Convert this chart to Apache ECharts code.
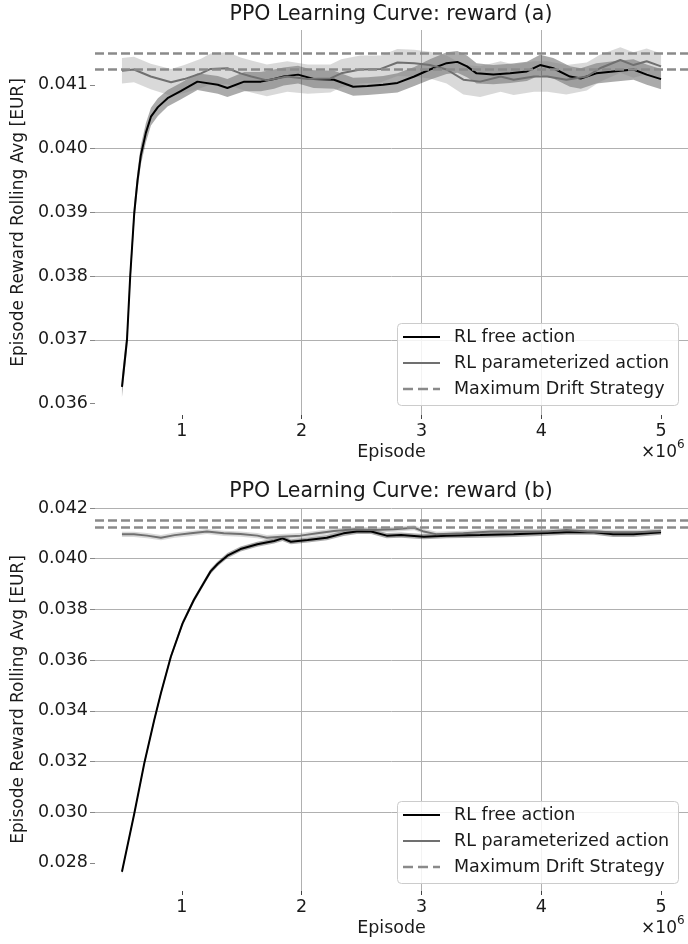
<!DOCTYPE html>
<html><head><meta charset="utf-8">
<script src="https://cdn.jsdelivr.net/npm/echarts@6/dist/echarts.min.js"></script>
<style>html,body{margin:0;padding:0;background:#fff}#c{width:688px;height:944px}</style>
</head><body><div id="c"></div>
<script>
// ---- tick labels ----
const xTicks = [1, 2, 3, 4, 5];
const yTicksA = [0.036, 0.037, 0.038, 0.039, 0.040, 0.041];
const yTicksB = [0.028, 0.030, 0.032, 0.034, 0.036, 0.038, 0.040, 0.042];
const seriesNames = ['RL free action', 'RL parameterized action', 'Maximum Drift Strategy'];
const driftLevels = [0.04150, 0.04125];

// ---- (a) RL free action (episodes in millions) ----
const xFreeA = [0.5,0.542,0.569,0.603,0.63,0.658,0.7,0.742,0.8,0.881,0.99,1.13,1.3,1.38,1.52,1.66,1.77,1.85,1.97,2.1,2.27,2.43,2.55,2.68,2.8,2.94,3.07,3.21,3.30,3.38,3.46,3.6,3.74,3.88,3.99,4.1,4.24,4.33,4.46,4.6,4.77,4.88,5.0];
const yFreeA = [0.03626,0.0370,0.0380,0.0390,0.0395,0.0399,0.04025,0.0405,0.04065,0.04079,0.0409,0.04105,0.0410,0.04095,0.04105,0.04105,0.04109,0.04113,0.04116,0.04109,0.04108,0.04097,0.04098,0.04100,0.04103,0.04113,0.04124,0.04134,0.04136,0.04129,0.04118,0.04116,0.04118,0.04121,0.04131,0.04126,0.04113,0.04110,0.04118,0.04121,0.04124,0.04116,0.04109];
const sdFreeA = [0.00016,0.00016,0.00016,0.00016,0.00015,0.00015,0.00015,0.00014,0.00014,0.00013,0.00013,0.00013,0.00014,0.00014,0.00015,0.00015,0.00015,0.00014,0.00014,0.00014,0.00014,0.00014,0.00014,0.00014,0.00015,0.00015,0.00016,0.00017,0.00017,0.00017,0.00016,0.00015,0.00015,0.00015,0.00016,0.00016,0.00016,0.00016,0.00016,0.00016,0.00016,0.00016,0.00016];

// ---- (a) RL parameterized action ----
const xParA = [0.5,0.6,0.74,0.91,1.02,1.16,1.24,1.38,1.49,1.58,1.71,1.88,2.05,2.24,2.33,2.49,2.66,2.8,2.94,3.07,3.21,3.35,3.49,3.66,3.77,3.94,4.05,4.21,4.38,4.49,4.66,4.77,4.88,5.0];
const yParA = [0.04122,0.04124,0.04113,0.04104,0.04109,0.04118,0.04125,0.04126,0.04118,0.04113,0.04107,0.04113,0.04109,0.04110,0.04118,0.04124,0.04125,0.04135,0.04134,0.04131,0.04124,0.04108,0.04105,0.04113,0.04108,0.04113,0.04113,0.04108,0.04113,0.04126,0.04139,0.04131,0.04137,0.04129];
const sdParA = [0.00020,0.00020,0.00020,0.00021,0.00022,0.00023,0.00024,0.00025,0.00025,0.00025,0.00025,0.00024,0.00023,0.00022,0.00022,0.00022,0.00021,0.00021,0.00021,0.00021,0.00022,0.00023,0.00024,0.00024,0.00024,0.00024,0.00024,0.00023,0.00022,0.00021,0.00020,0.00020,0.00020,0.00020];

// ---- (b) RL free action ----
const xFreeB = [0.5,0.603,0.686,0.769,0.825,0.908,1.006,1.1,1.19,1.24,1.3,1.38,1.49,1.63,1.77,1.84,1.91,2.05,2.21,2.35,2.46,2.58,2.71,2.83,3.02,3.21,3.49,3.77,3.99,4.21,4.44,4.6,4.77,5.0];
const yFreeB = [0.02765,0.02995,0.03192,0.03363,0.03469,0.03613,0.03745,0.03837,0.03910,0.03950,0.0398,0.04012,0.04038,0.04057,0.0407,0.0408,0.04067,0.04074,0.04083,0.0410,0.04107,0.04107,0.04091,0.04093,0.04087,0.04091,0.04093,0.04096,0.0410,0.04104,0.04104,0.04096,0.04096,0.04104];
const sdFreeB = [0.00010,0.00010,0.00010,0.00010,0.00010,0.00010,0.00010,0.00010,0.00010,0.00010,0.00010,0.00010,0.00010,0.00010,0.00010,0.00010,0.00010,0.00010,0.00010,0.00010,0.00010,0.00010,0.00010,0.00010,0.00010,0.00010,0.00010,0.00010,0.00010,0.00010,0.00010,0.00010,0.00010,0.00010];

// ---- (b) RL parameterized action ----
const xParB = [0.5,0.6,0.71,0.825,0.94,1.075,1.21,1.35,1.49,1.63,1.71,1.83,1.99,2.13,2.27,2.44,2.6,2.77,2.94,3.02,3.13,3.35,3.58,3.83,4.05,4.21,4.38,4.6,4.8,5.0];
const yParB = [0.04096,0.04096,0.04091,0.04083,0.04093,0.0410,0.04107,0.0410,0.04097,0.04091,0.04083,0.04087,0.04091,0.0410,0.04109,0.04116,0.04113,0.04116,0.04122,0.04107,0.04096,0.0410,0.04107,0.04107,0.04107,0.04113,0.04107,0.04104,0.04104,0.04109];
const sdParB = [0.00010,0.00010,0.00010,0.00010,0.00010,0.00010,0.00010,0.00010,0.00010,0.00010,0.00010,0.00010,0.00010,0.00010,0.00010,0.00010,0.00010,0.00010,0.00010,0.00010,0.00010,0.00010,0.00010,0.00010,0.00010,0.00010,0.00010,0.00010,0.00010,0.00010];

const FONT = 'DejaVu Sans';
const TXT = '#1a1a1a';
const GRID = '#b0b0b0';
const C_FREE = '#000000';
const C_PAR = '#707070';
const C_DRIFT = '#8a8a8a';
const BAND_FREE = 'rgba(0,0,0,0.33)';
const BAND_PAR = 'rgba(128,128,128,0.3)';
const FS = 17.5;

function pairs(xs, ys) { return xs.map((x, i) => [x, ys[i]]); }

function band(idx, xs, ys, sd, color) {
  return {
    type: 'custom', xAxisIndex: idx, yAxisIndex: idx, silent: true, clip: true, z: 1,
    data: [[xs[0], ys[0]]],
    renderItem: function (params, api) {
      const pts = [];
      for (let i = 0; i < xs.length; i++) pts.push(api.coord([xs[i], ys[i] + sd[i]]));
      for (let i = xs.length - 1; i >= 0; i--) pts.push(api.coord([xs[i], ys[i] - sd[i]]));
      return { type: 'polygon', shape: { points: pts }, style: { fill: color } };
    }
  };
}
function line(idx, name, xs, ys, color, z) {
  return {
    type: 'line', name: name, xAxisIndex: idx, yAxisIndex: idx, data: pairs(xs, ys),
    symbol: 'none', showSymbol: false, silent: true, z: z,
    lineStyle: { color: color, width: 2 }, itemStyle: { color: color }
  };
}
function drift(idx) {
  const ls = { color: C_DRIFT, width: 2.5, type: [9, 4] };
  return {
    type: 'line', name: seriesNames[2], xAxisIndex: idx, yAxisIndex: idx, data: [],
    symbol: 'none', silent: true, z: 4, lineStyle: ls, itemStyle: { color: C_DRIFT },
    markLine: {
      silent: true, symbol: ['none', 'none'], label: { show: false }, precision: 8,
      lineStyle: ls, animation: false,
      data: driftLevels.map(v => ({ yAxis: v }))
    }
  };
}
function xAxisCfg(idx) {
  return {
    type: 'value', gridIndex: idx, min: 0.275, max: 5.225, splitNumber: 5,
    axisLine: { show: false },
    axisTick: { show: true, length: 4, lineStyle: { color: '#444' }, customValues: xTicks },
    axisLabel: { customValues: xTicks, fontFamily: FONT, fontSize: FS, color: TXT, margin: 7, formatter: v => String(Math.round(v)) },
    splitLine: { show: true, showMinLine: false, showMaxLine: false, lineStyle: { color: GRID, width: 1 } },
    name: 'Episode', nameLocation: 'middle', nameGap: 28,
    nameTextStyle: { fontFamily: FONT, fontSize: FS, color: TXT }
  };
}
function yAxisCfg(idx, min, max, split, ticks, showMax) {
  return {
    type: 'value', gridIndex: idx, min: min, max: max, splitNumber: split,
    axisLine: { show: false },
    axisTick: { show: true, length: 5, lineStyle: { color: '#888' }, customValues: ticks },
    axisLabel: { customValues: ticks, fontFamily: FONT, fontSize: FS, color: TXT, margin: 7, formatter: v => v.toFixed(3) },
    splitLine: { show: true, showMinLine: false, showMaxLine: showMax, lineStyle: { color: GRID, width: 1 } },
    name: 'Episode Reward Rolling Avg [EUR]', nameLocation: 'middle', nameGap: 63,
    nameTextStyle: { fontFamily: FONT, fontSize: 17, color: TXT }
  };
}
// legend drawn as graphic elements (box, sample lines, labels)
function legendGraphic(top) {
  const left = 397, width = 281, height = 82;
  const styles = [
    { stroke: C_FREE, lineWidth: 2 },
    { stroke: C_PAR, lineWidth: 2 },
    { stroke: C_DRIFT, lineWidth: 2.5, lineDash: [10, 5] }
  ];
  const out = [{
    type: 'rect', z: 100, silent: true,
    shape: { x: left + 0.5, y: top + 0.5, width: width, height: height, r: 4 },
    style: { fill: 'rgba(255,255,255,0.85)', stroke: '#cccccc', lineWidth: 1 }
  }];
  seriesNames.forEach((name, i) => {
    const cy = top + 14 + i * 26;
    out.push({ type: 'line', z: 101, silent: true, shape: { x1: left + 6, y1: cy, x2: left + 43, y2: cy }, style: styles[i] });
    out.push({ type: 'text', z: 101, silent: true, x: left + 57, y: cy, style: { text: name, font: FS + 'px "DejaVu Sans"', fill: TXT, align: 'left', verticalAlign: 'middle' } });
  });
  return out;
}
function titleCfg(text, top) {
  return { text: text, left: 391, top: top, textAlign: 'center', padding: 0,
    textStyle: { fontFamily: FONT, fontSize: 20.5, fontWeight: 'normal', color: TXT } };
}
function expText(y) {
  return [
    { type: 'text', x: 677, y: y, silent: true, style: { text: '×10', align: 'right', verticalAlign: 'middle', font: '17px "DejaVu Sans"', fill: TXT } },
    { type: 'text', x: 677, y: y - 8, silent: true, style: { text: '6', align: 'left', verticalAlign: 'middle', font: '12px "DejaVu Sans"', fill: TXT } }
  ];
}

const chart = echarts.init(document.getElementById('c'), null, { renderer: 'canvas', width: 688, height: 944 });
chart.setOption({
  backgroundColor: '#ffffff',
  animation: false,
  title: [titleCfg('PPO Learning Curve: reward (a)', 4), titleCfg('PPO Learning Curve: reward (b)', 481)],
  grid: [
    { left: 95, right: 0, top: 30, height: 385, containLabel: false, outerBoundsMode: 'none' },
    { left: 95, right: 0, top: 508, height: 383, containLabel: false, outerBoundsMode: 'none' }
  ],
  xAxis: [xAxisCfg(0), xAxisCfg(1)],
  yAxis: [
    yAxisCfg(0, 0.03582, 0.04186, 6, yTicksA, false),
    yAxisCfg(1, 0.02689, 0.042, 7, yTicksB, true)
  ],
  graphic: expText(453).concat(expText(929), legendGraphic(323), legendGraphic(801)),
  series: [
    band(0, xFreeA, yFreeA, sdFreeA, BAND_FREE),
    band(0, xParA, yParA, sdParA, BAND_PAR),
    line(0, seriesNames[0], xFreeA, yFreeA, C_FREE, 2),
    line(0, seriesNames[1], xParA, yParA, C_PAR, 3),
    drift(0),
    band(1, xFreeB, yFreeB, sdFreeB, BAND_FREE),
    band(1, xParB, yParB, sdParB, BAND_PAR),
    line(1, seriesNames[0], xFreeB, yFreeB, C_FREE, 2),
    line(1, seriesNames[1], xParB, yParB, C_PAR, 3),
    drift(1)
  ]
});
</script>
</body></html>
